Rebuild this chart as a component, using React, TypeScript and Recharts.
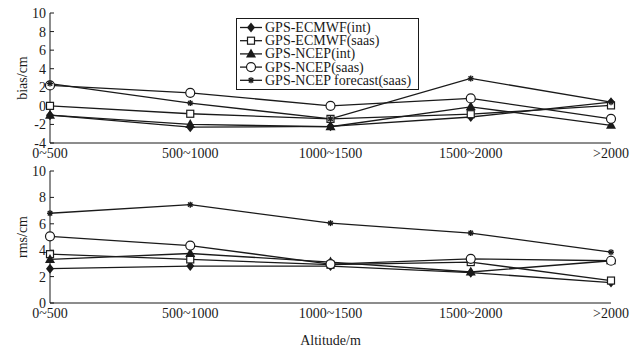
import React from 'react';
import { LineChart, Line, XAxis, YAxis } from 'recharts';

const categories = ['0~500', '500~1000', '1000~1500', '1500~2000', '>2000'];

// bias (cm)
const biasEcmwfInt = [-1.0, -2.3, -2.2, -1.2, 0.4];
const biasEcmwfSaas = [0.0, -0.85, -1.4, -0.9, 0.05];
const biasNcepInt = [-1.0, -2.0, -2.25, -0.1, -2.1];
const biasNcepSaas = [2.2, 1.4, 0.0, 0.8, -1.4];
const biasNcepForecast = [2.4, 0.3, -1.4, 2.95, 0.4];

// rms (cm)
const rmsEcmwfInt = [2.6, 2.8, 2.8, 2.3, 1.55];
const rmsEcmwfSaas = [3.7, 3.3, 2.9, 3.1, 1.7];
const rmsNcepInt = [3.3, 3.75, 3.1, 2.35, 3.2];
const rmsNcepSaas = [5.05, 4.35, 2.95, 3.35, 3.2];
const rmsNcepForecast = [6.8, 7.45, 6.05, 5.3, 3.85];

const biasTicks = [-4, -2, 0, 2, 4, 6, 8, 10];
const rmsTicks = [0, 2, 4, 6, 8, 10];

const seriesNames = [
  'GPS-ECMWF(int)',
  'GPS-ECMWF(saas)',
  'GPS-NCEP(int)',
  'GPS-NCEP(saas)',
  'GPS-NCEP forecast(saas)',
];
const seriesKeys = ['ecInt', 'ecSaas', 'ncInt', 'ncSaas', 'ncFc'];
const shapes = ['diamond', 'square', 'triangle', 'circle', 'star'];

const biasData = categories.map((cat, i) => ({
  cat,
  ecInt: biasEcmwfInt[i],
  ecSaas: biasEcmwfSaas[i],
  ncInt: biasNcepInt[i],
  ncSaas: biasNcepSaas[i],
  ncFc: biasNcepForecast[i],
}));

const rmsData = categories.map((cat, i) => ({
  cat,
  ecInt: rmsEcmwfInt[i],
  ecSaas: rmsEcmwfSaas[i],
  ncInt: rmsNcepInt[i],
  ncSaas: rmsNcepSaas[i],
  ncFc: rmsNcepForecast[i],
}));

const INK = '#1a1a1a';
const FONT = '"Liberation Serif", "DejaVu Serif", serif';
const tickStyle = { fontSize: 14, fill: INK, fontFamily: FONT };

const Marker = ({ cx, cy, shape }: { cx: number; cy: number; shape: string }) => {
  if (cx == null || cy == null) return null;
  switch (shape) {
    case 'diamond':
      return (
        <polygon
          points={`${cx},${cy - 5} ${cx + 4},${cy} ${cx},${cy + 5} ${cx - 4},${cy}`}
          fill={INK}
        />
      );
    case 'square':
      return (
        <rect x={cx - 3.5} y={cy - 3.5} width={7} height={7} fill="#fff" stroke={INK} strokeWidth={1.2} />
      );
    case 'triangle':
      return (
        <polygon
          points={`${cx},${cy - 5.5} ${cx + 5},${cy + 3.5} ${cx - 5},${cy + 3.5}`}
          fill={INK}
        />
      );
    case 'circle':
      return <circle cx={cx} cy={cy} r={4.5} fill="#fff" stroke={INK} strokeWidth={1.2} />;
    default:
      return (
        <g stroke={INK} strokeWidth={1.4}>
          <line x1={cx - 3} y1={cy} x2={cx + 3} y2={cy} />
          <line x1={cx} y1={cy - 3} x2={cx} y2={cy + 3} />
          <line x1={cx - 2.2} y1={cy - 2.2} x2={cx + 2.2} y2={cy + 2.2} />
          <line x1={cx - 2.2} y1={cy + 2.2} x2={cx + 2.2} y2={cy - 2.2} />
        </g>
      );
  }
};

const dotFor = (shape: string) => (p: any) =>
  <Marker key={`${shape}-${p.index}`} cx={p.cx} cy={p.cy} shape={shape} />;

const renderLines = () =>
  seriesKeys.map((key, i) => (
    <Line
      key={key}
      type="linear"
      dataKey={key}
      name={seriesNames[i]}
      stroke={INK}
      strokeWidth={1.3}
      dot={dotFor(shapes[i])}
      activeDot={false}
      isAnimationActive={false}
    />
  ));

const LegendBox = () => (
  <svg
    width={184}
    height={73}
    style={{ position: 'absolute', left: 236, top: 18 }}
  >
    <rect x={0.5} y={0.5} width={182} height={71} fill="#fff" stroke={INK} strokeWidth={1} />
    {seriesNames.map((name, i) => {
      const y = 9.5 + i * 13.2;
      return (
        <g key={name}>
          <line x1={4} y1={y} x2={26} y2={y} stroke={INK} strokeWidth={1.3} />
          <Marker cx={15} cy={y} shape={shapes[i]} />
          <text x={29} y={y} dominantBaseline="central" fontSize={14} fontFamily={FONT} fill={INK}>
            {name}
          </text>
        </g>
      );
    })}
  </svg>
);

const App = () => {
  return (
    <div style={{ position: 'absolute', left: 0, top: 0, width: 638, height: 353, background: '#fff' }}>
      <div style={{ position: 'absolute', left: 0, top: 0 }}>
        <LineChart width={638} height={165} data={biasData} margin={{ top: 13, right: 27, bottom: 0, left: 0 }}>
          <XAxis
            dataKey="cat"
            interval={0}
            height={22}
            tick={tickStyle}
            tickLine={false}
            tickSize={5}
            tickMargin={0}
            stroke={INK}
          />
          <XAxis
            xAxisId="top"
            dataKey="cat"
            orientation="top"
            interval={0}
            height={0}
            tick={false}
            tickSize={-4}
            stroke={INK}
          />
          <YAxis
            type="number"
            domain={[-4, 10]}
            ticks={biasTicks}
            interval={0}
            width={50}
            tick={tickStyle}
            tickSize={-4}
            tickMargin={8}
            stroke={INK}
            label={{ value: 'bias/cm', angle: -90, position: 'center', dx: -3, style: { fontSize: 14, fill: INK, fontFamily: FONT } }}
          />
          <YAxis
            yAxisId="right"
            orientation="right"
            type="number"
            domain={[-4, 10]}
            ticks={biasTicks}
            interval={0}
            width={0}
            tick={false}
            tickSize={-4}
            stroke={INK}
          />
          {renderLines()}
        </LineChart>
      </div>
      <div style={{ position: 'absolute', left: 0, top: 165 }}>
        <LineChart width={638} height={188} data={rmsData} margin={{ top: 6, right: 27, bottom: 0, left: 0 }}>
          <XAxis
            dataKey="cat"
            interval={0}
            height={50}
            tick={tickStyle}
            tickLine={false}
            tickSize={5}
            tickMargin={0}
            stroke={INK}
            label={{ value: 'Altitude/m', position: 'insideBottom', offset: 8, style: { fontSize: 14, fill: INK, fontFamily: FONT } }}
          />
          <XAxis
            xAxisId="top"
            dataKey="cat"
            orientation="top"
            interval={0}
            height={0}
            tick={false}
            tickSize={-4}
            stroke={INK}
          />
          <YAxis
            type="number"
            domain={[0, 10]}
            ticks={rmsTicks}
            interval={0}
            width={50}
            tick={tickStyle}
            tickSize={-4}
            tickMargin={8}
            stroke={INK}
            label={{ value: 'rms/cm', angle: -90, position: 'center', dx: -3, style: { fontSize: 14, fill: INK, fontFamily: FONT } }}
          />
          <YAxis
            yAxisId="right"
            orientation="right"
            type="number"
            domain={[0, 10]}
            ticks={rmsTicks}
            interval={0}
            width={0}
            tick={false}
            tickSize={-4}
            stroke={INK}
          />
          {renderLines()}
        </LineChart>
      </div>
      <LegendBox />
    </div>
  );
};

export default App;
